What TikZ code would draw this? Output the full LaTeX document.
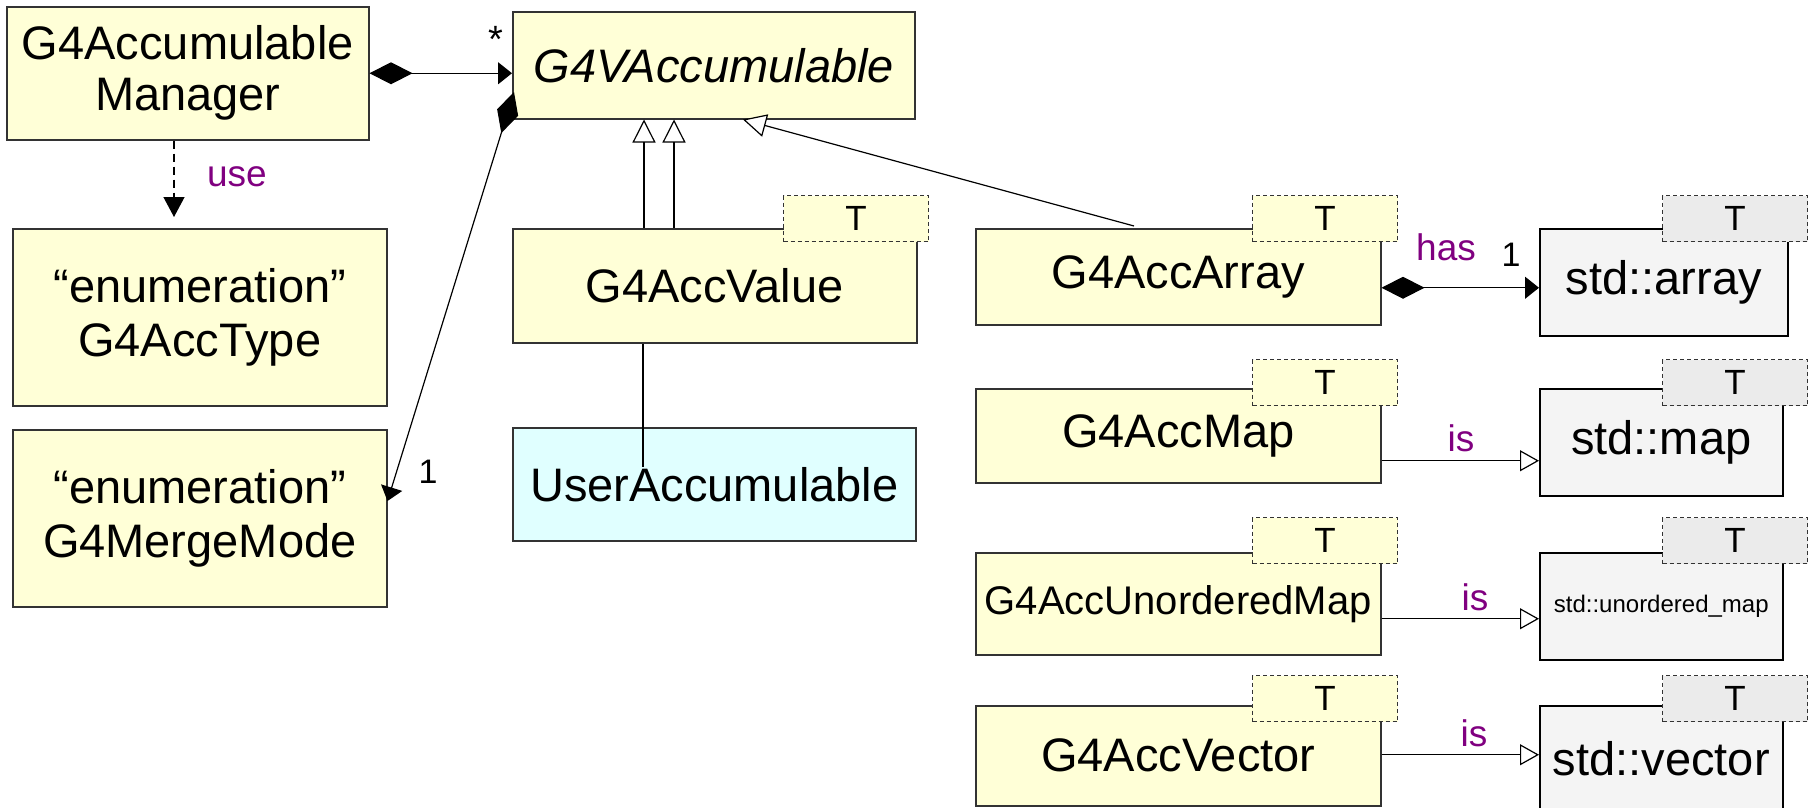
\documentclass[tikz,border=0pt]{standalone}
\usepackage{fontspec}
\setmainfont{Liberation Sans}
\usetikzlibrary{arrows.meta}
\definecolor{clsyellow}{HTML}{FFFFD7}
\definecolor{usercyan}{HTML}{E0FFFF}
\definecolor{stdgray}{HTML}{F4F4F4}
\definecolor{tmplgray}{HTML}{EBEBEB}
\definecolor{edgegray}{HTML}{333333}
\definecolor{lblpurple}{HTML}{800080}
\newcommand\fsz[2]{\fontsize{#1}{#2}\selectfont}

\tikzset{
  cls/.style={draw=edgegray, line width=1.5pt, fill=clsyellow, inner sep=0pt,
              anchor=north west, align=center, font=\fsz{47}{54}},
  userbox/.style={cls, fill=usercyan},
  stdbox/.style={cls, draw=black, fill=stdgray},
  tmpl/.style={draw=edgegray, line width=1.2pt, dash pattern=on 4pt off 3pt,
               fill=clsyellow, inner sep=0pt, anchor=north west,
               minimum width=145pt, minimum height=46pt, font=\fsz{35}{40}},
  stdtmpl/.style={tmpl, fill=tmplgray},
  conn/.style={line width=1.2pt, draw=black},
  comp/.style={conn, {Diamond[length=43pt,width=22pt]}-{Triangle[length=14pt,width=22pt]}},
  inh/.style={conn, -{Triangle[length=23pt,width=23pt,fill=white]}},
  plain/.style={conn},
  dep/.style={conn, dash pattern=on 8pt off 5pt, -{Triangle[length=20pt,width=21pt]}},
  isa/.style={conn, -{Triangle[length=19pt,width=21pt,fill=white]}},
  lbl/.style={text=lblpurple, font=\fsz{37}{42}, inner sep=0pt},
  mult/.style={text=black, font=\fsz{34}{38}, inner sep=0pt}
}

\begin{document}
\begin{tikzpicture}[x=1pt,y=-1pt]
\useasboundingbox (0,0) rectangle (1808,807);

% left column
\node[cls, minimum width=362pt, minimum height=133pt, font=\fsz{47}{51}] (mgr) at (6,6) {G4Accumulable\\Manager};
\node[cls, minimum width=374pt, minimum height=177pt, font=\fsz{47}{54}] (type) at (12,228) {“enumeration”\\G4AccType};
\node[cls, minimum width=374pt, minimum height=177pt, font=\fsz{47}{54}] (merge) at (12,429) {“enumeration”\\G4MergeMode};

% middle column
\node[cls, minimum width=402pt, minimum height=107pt, font=\fsz{47}{54}\itshape] (vacc) at (512,11) {G4VAccumulable};
\node[cls, minimum width=404pt, minimum height=114pt] (val) at (512,228) {G4AccValue};
\node[tmpl] (valT) at (783,195) {T};
\node[userbox, minimum width=403pt, minimum height=113pt] (user) at (512,427) {UserAccumulable};

% right column: templated accumulables
\node[cls, minimum width=405pt, minimum height=96pt] (arr) at (975,228) {G4AccArray};
\node[tmpl] (arrT) at (1252,195) {T};
\node[cls, minimum width=405pt, minimum height=94pt] (amap) at (975,388) {G4AccMap};
\node[tmpl] (amapT) at (1252,359) {T};
\node[cls, minimum width=405pt, minimum height=102pt, font=\fsz{40}{46}] (aum) at (975,552) {G4AccUnorderedMap};
\node[tmpl] (aumT) at (1252,517) {T};
\node[cls, minimum width=405pt, minimum height=100pt] (avec) at (975,705) {G4AccVector};
\node[tmpl] (avecT) at (1252,675) {T};

% standard containers
\node[stdbox, minimum width=248pt, minimum height=107pt] (sarr) at (1539,228) {std::array};
\node[stdtmpl] (sarrT) at (1662,195) {T};
\node[stdbox, minimum width=243pt, minimum height=107pt] (smap) at (1539,388) {std::map};
\node[stdtmpl] (smapT) at (1662,359) {T};
\node[stdbox, minimum width=243pt, minimum height=107pt, font=\fsz{24}{28}] (sum) at (1539,552) {std::unordered\_map};
\node[stdtmpl] (sumT) at (1662,517) {T};
\node[stdbox, minimum width=243pt, minimum height=106pt] (svec) at (1539,705) {std::vector};
\node[stdtmpl] (svecT) at (1662,675) {T};

% manager owns accumulables
\draw[comp] (mgr.east) -- (vacc.west |- mgr.east);
\node[mult, font=\fsz{38}{42}] (star) at (496,39) {*};

% manager uses the type enumeration
\draw[dep] ([xshift=168pt]mgr.south west) -- ([xshift=162pt,yshift=11pt]type.north west);
\node[lbl] (uselbl) at (237,177) {use};

% accumulable owns a merge mode
\draw[comp] ([shift={(2,81)}]vacc.north west) -- ([yshift=-72pt]merge.north east);
\node[mult] (one1) at (428,472) {1};

% inheritance
\draw[inh] ([xshift=132pt]val.north west) -- ([xshift=132pt]vacc.south west);
\draw[inh] ([xshift=162pt]val.north west) -- ([xshift=162pt]vacc.south west);
\draw[inh] ([xshift=159pt,yshift=2pt]arr.north west) -- ([xshift=231pt]vacc.south west);

% user class bound to G4AccValue
\draw[plain] ([xshift=131pt]val.south west) -- ([xshift=131pt,yshift=-40pt]user.north west);

% G4AccArray has a std::array
\draw[comp] ([yshift=-11pt]arr.east) coordinate (ha) -- (ha -| sarr.west);
\node[lbl] (haslbl) at (1446,247) {has};
\node[mult] (one2) at (1511,255) {1};

% the other containers
\draw[isa] ([yshift=-25pt]amap.east) coordinate (hm) -- (hm -| smap.west);
\node[lbl] (is1) at (1461,438) {is};
\draw[isa] ([yshift=-15pt]aum.east) coordinate (hu) -- (hu -| sum.west);
\node[lbl] (is2) at (1475,597) {is};
\draw[isa] ([yshift=1pt]avec.east) coordinate (hv) -- (hv -| svec.west);
\node[lbl] (is3) at (1474,733) {is};
\end{tikzpicture}
\end{document}
